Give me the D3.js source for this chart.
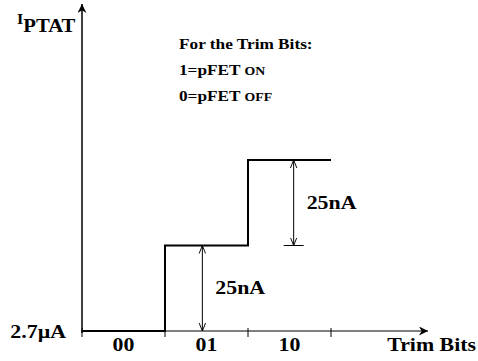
<!DOCTYPE html>
<html>
<head>
<meta charset="utf-8">
<script src="https://cdn.jsdelivr.net/npm/d3@7"></script>
<style>
  body { margin: 0; background: #fff; }
</style>
</head>
<body>
<div id="chart"></div>
<script>
// trim codes and the PTAT current step above 2.7uA (nA)
const codes = ["00", "01", "10"];
const stepNA = [0, 25, 50];
const deltaLabels = ["25nA", "25nA"];
const baseLabel = "2.7\u00B5A";
const notes = ["For the Trim Bits:", "1=pFET ", "0=pFET "];
const noteCaps = ["", "ON", "OFF"];

drawChart();

// scanned lettering is a bit wider than it is tall
function label(sel, x, y, size, anchor) {
    return sel.append("text")
        .attr("transform", "translate(" + x + "," + y + ") scale(1.15,1)")
        .attr("text-anchor", anchor || "start")
        .attr("font-family", "Liberation Serif")
        .attr("font-weight", "bold")
        .attr("font-size", size)
        .attr("fill", "#000");
}

function drawChart() {
    let W = 478, H = 361;
    let x0 = 82, y0 = 331;

    let svg = d3.select("#chart").append("svg")
        .attr("width", W)
        .attr("height", H);

    let defs = svg.append("defs");
    defs.append("marker")
        .attr("id", "head")
        .attr("viewBox", "0 0 10 10")
        .attr("refX", 10).attr("refY", 5)
        .attr("markerWidth", 9).attr("markerHeight", 9)
        .attr("markerUnits", "userSpaceOnUse")
        .attr("orient", "auto")
        .append("path")
        .attr("d", "M0,0 L10,5 L0,10 L3,5 Z")
        .attr("fill", "#000");
    defs.append("marker")
        .attr("id", "open")
        .attr("viewBox", "0 0 10 10")
        .attr("refX", 10).attr("refY", 5)
        .attr("markerWidth", 8).attr("markerHeight", 8)
        .attr("markerUnits", "userSpaceOnUse")
        .attr("orient", "auto-start-reverse")
        .append("path")
        .attr("d", "M0,1 L10,5 L0,9")
        .attr("fill", "none")
        .attr("stroke", "#000")
        .attr("stroke-width", 1.2);

    let x = d3.scaleBand()
        .domain(codes)
        .range([x0, 331])
        .padding(0);

    let y = d3.scaleLinear()
        .domain([0, 50])
        .range([y0, 160]);

    // axes
    svg.append("line")
        .attr("x1", x0).attr("y1", y0)
        .attr("x2", 428).attr("y2", y0)
        .attr("stroke", "#000").attr("stroke-width", 1)
        .attr("marker-end", "url(#head)");
    svg.append("line")
        .attr("x1", x0).attr("y1", y0 + 2)
        .attr("x2", x0).attr("y2", 4)
        .attr("stroke", "#000").attr("stroke-width", 1.5)
        .attr("marker-end", "url(#head)");

    let xAxis = svg.append("g")
        .attr("transform", "translate(0," + y0 + ")");
    let tickX = codes.map(d => x(d)).concat([x.range()[1]]);
    xAxis.selectAll("line.tick")
        .data(tickX)
        .enter()
        .append("line")
        .attr("x1", d => d).attr("x2", d => d)
        .attr("y1", -3).attr("y2", 6)
        .attr("stroke", "#000").attr("stroke-width", 1);
    codes.forEach(c => {
        label(xAxis, x(c) + x.bandwidth() / 2, 20, 19, "middle").text(c);
    });

    label(svg, 476, y0 + 20, 19, "end").text("Trim Bits");
    label(svg, 66, y0 + 7, 19, "end").text(baseLabel);

    let yl = label(svg, 17, 24, 14);
    yl.append("tspan").text("I");
    yl.append("tspan").attr("dy", 8).attr("font-size", 18).text("PTAT");

    // step line
    let pts = [];
    codes.forEach((c, i) => {
        pts.push([x(c), y(stepNA[i])]);
        pts.push([x(c) + x.bandwidth(), y(stepNA[i])]);
    });
    svg.append("path")
        .attr("d", d3.line()(pts))
        .attr("fill", "none")
        .attr("stroke", "#000")
        .attr("stroke-width", 2);

    // dimension arrows
    let dims = [[codes[1], 0, 1, 0.45], [codes[2], 1, 2, 0.55]];
    dims.forEach((d, i) => {
        let ax = x(d[0]) + x.bandwidth() * d[3];
        svg.append("line")
            .attr("x1", ax).attr("x2", ax)
            .attr("y1", y(stepNA[d[1]])).attr("y2", y(stepNA[d[2]]))
            .attr("stroke", "#000").attr("stroke-width", 1)
            .attr("marker-start", "url(#open)")
            .attr("marker-end", "url(#open)");
        label(svg, ax + 13, (y(stepNA[d[1]]) + y(stepNA[d[2]])) / 2 + 6, 19)
            .text(deltaLabels[i]);
    });
    let ax2 = x(codes[2]) + x.bandwidth() * 0.55;
    svg.append("line")
        .attr("x1", ax2 - 10).attr("x2", ax2 + 10)
        .attr("y1", y(stepNA[1])).attr("y2", y(stepNA[1]))
        .attr("stroke", "#000").attr("stroke-width", 1);

    // note
    notes.forEach((n, i) => {
        let t = label(svg, 179, 49 + i * 26, 15);
        t.append("tspan").text(n);
        if (noteCaps[i]) t.append("tspan").attr("font-size", 12).text(noteCaps[i]);
    });
}
</script>
</body>
</html>
